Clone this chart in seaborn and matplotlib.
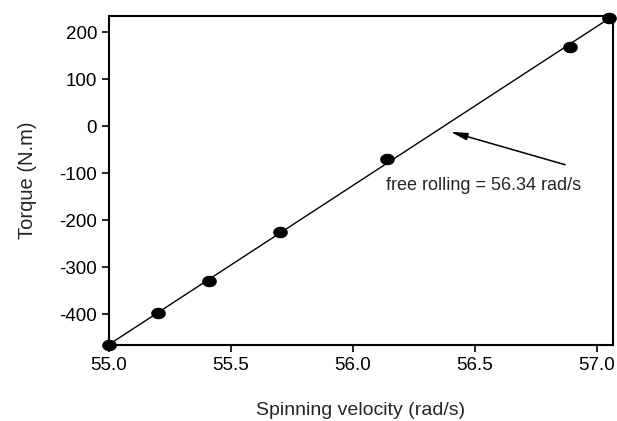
import matplotlib
matplotlib.use("Agg")
import matplotlib.pyplot as plt
import numpy as np
import pandas as pd
import seaborn as sns
from matplotlib.path import Path

velocity = [55.0, 55.2, 55.41, 55.7, 56.14, 56.89, 57.05]
torque = [-465, -397, -330, -224, -70, 168, 230]
x_ticks = [55.0, 55.5, 56.0, 56.5, 57.0]
y_ticks = [-400, -300, -200, -100, 0, 100, 200]

df = pd.DataFrame({"velocity": velocity, "torque": torque})

sns.set_style("ticks")
plt.rcParams["font.family"] = ["Liberation Sans", "DejaVu Sans"]
plt.rcParams["axes.unicode_minus"] = False

# slightly flattened dot, like the scanned original
th = np.linspace(0, 2 * np.pi, 40)
ellipse = Path(np.column_stack([1.3 * np.cos(th), np.sin(th)]))

fig = plt.figure(figsize=(6.17, 4.21), dpi=100)
ax = fig.add_axes([0.1767, 0.1805, 0.8168, 0.7815])

sns.regplot(data=df, x="velocity", y="torque", ci=None, truncate=True,
            scatter=False, ax=ax, line_kws={"color": "black", "lw": 1.0})
sns.scatterplot(data=df, x="velocity", y="torque", ax=ax, color="black",
                marker=ellipse, s=95, edgecolor="black", zorder=5, clip_on=False)

ax.set_xlim(55.0, 57.066)
ax.set_ylim(-465, 234)
ax.set_xticks(x_ticks)
ax.set_xticklabels([f"{t:.1f}" for t in x_ticks])
ax.set_yticks(y_ticks)

ax.annotate("", xy=(56.40, -12), xytext=(56.87, -82),
            arrowprops=dict(arrowstyle="-|>,head_length=1.0,head_width=0.22",
                            color="black", lw=1.1, shrinkA=0, shrinkB=0))
ax.text(56.135, -127, "free rolling = 56.34 rad/s", fontsize=13,
        ha="left", va="center")

ax.set_xlabel("Spinning velocity (rad/s)", fontsize=14, labelpad=20)
ax.set_ylabel("Torque (N.m)", fontsize=14.5, labelpad=16)
ax.tick_params(axis="both", labelsize=13.5, direction="out", length=5,
               width=1.2, colors="black", top=False, right=False)
for s in ax.spines.values():
    s.set_visible(True)
    s.set_color("black")
    s.set_linewidth(1.5)

fig.savefig("out.png", dpi=100)
